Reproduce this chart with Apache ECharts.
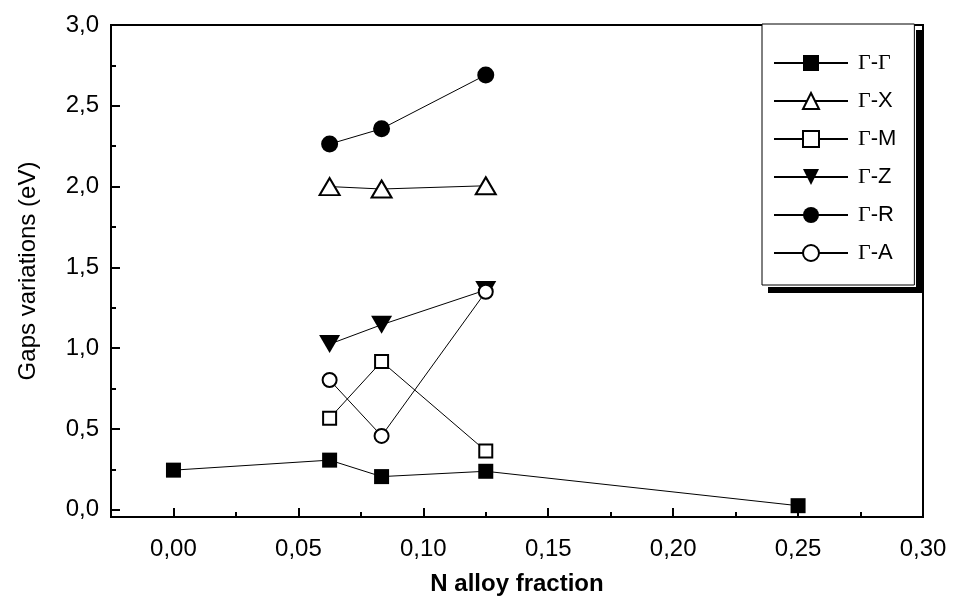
<!DOCTYPE html>
<html>
<head>
<meta charset="utf-8">
<script src="https://cdn.jsdelivr.net/npm/echarts@6/dist/echarts.min.js"></script>
<style>
  html, body { margin: 0; padding: 0; background: #fff; }
  #main { width: 953px; height: 601px; }
</style>
</head>
<body>
<div id="main"></div>
<script>
// N alloy fraction for each series
const xAll = [0, 0.0625, 0.0833, 0.125, 0.25]
const xMid = [0.0625, 0.0833, 0.125]

// gaps (eV)
const gammaGamma = [0.245, 0.307, 0.205, 0.238, 0.025]
const gammaX = [2.0, 1.985, 2.005]
const gammaM = [0.566, 0.917, 0.364]
const gammaZ = [1.025, 1.145, 1.36]
const gammaR = [2.263, 2.358, 2.691]
const gammaA = [0.803, 0.457, 1.349]

// ticks
const xMajor = [0, 0.05, 0.10, 0.15, 0.20, 0.25, 0.30]
const xMinor = [-0.025, 0.025, 0.075, 0.125, 0.175, 0.225, 0.275]
const yMajor = [0, 0.5, 1.0, 1.5, 2.0, 2.5, 3.0]
const yMinor = [0.25, 0.75, 1.25, 1.75, 2.25, 2.75]

const pair = (xs, ys) => xs.map((x, i) => [x, ys[i]])
const FONT = 'Liberation Sans'
const downTri = 'path://M0,0 L10,0 L5,9 Z'

function mkSeries(name, xs, ys, symbol, size, hollow) {
    return {
        name: name,
        type: 'line',
        data: pair(xs, ys),
        symbol: symbol,
        symbolSize: size,
        showSymbol: true,
        lineStyle: { color: '#000', width: 1 },
        itemStyle: hollow ? { color: '#000', borderColor: '#000', borderWidth: 2 } : { color: '#000', borderWidth: 0 },
        emphasis: { disabled: true },
        z: 3
    }
}

const chart = echarts.init(document.getElementById('main'), null, { renderer: 'canvas' })

const option = {
    animation: false,
    backgroundColor: '#fff',
    grid: {
        left: 111, right: 30, top: 25, bottom: 83,
        show: true, borderColor: '#000', borderWidth: 2
    },
    // thick drop shadow of the legend frame
    graphic: [
        { type: 'rect', left: 916, top: 30, shape: { width: 7, height: 263 }, style: { fill: '#000' }, z: 1 },
        { type: 'rect', left: 768, top: 287, shape: { width: 155, height: 6 }, style: { fill: '#000' }, z: 1 }
    ],
    legend: {
        orient: 'vertical',
        left: 762, top: 24,
        padding: [28, 18, 21, 11],
        itemWidth: 74, itemHeight: 20, itemGap: 16,
        backgroundColor: '#fff',
        borderColor: '#000', borderWidth: 1,
        selectedMode: false,
        z: 5,
        data: ['Γ-Γ', 'Γ-X', 'Γ-M', 'Γ-Z', 'Γ-R', 'Γ-A'],
        formatter: function (name) {
            const rest = name.slice(2)
            if (rest === 'Γ') return '{g|Γ}{s|-}{g|Γ}'
            return '{g|Γ}{s|-' + rest + '}'
        },
        textStyle: {
            padding: [0, 0, 0, 5],
            rich: {
                g: { fontFamily: 'Liberation Serif', fontSize: 22, color: '#000' },
                s: { fontFamily: FONT, fontSize: 22, color: '#000' }
            }
        }
    },
    xAxis: [{
        type: 'value',
        min: -0.025, max: 0.30,
        name: 'N alloy fraction',
        nameLocation: 'middle',
        nameGap: 55,
        nameTextStyle: { fontFamily: FONT, fontSize: 24, fontWeight: 'bold', color: '#000' },
        axisLine: { show: true, onZero: false, lineStyle: { color: '#000', width: 2 } },
        axisTick: { show: true, inside: true, length: 9, customValues: xMajor, lineStyle: { color: '#000', width: 2 } },
        axisLabel: {
            customValues: xMajor,
            margin: 20,
            fontFamily: FONT, fontSize: 24, color: '#000',
            formatter: v => v.toFixed(2).replace('.', ',')
        },
        splitLine: { show: false }
    }, {
        type: 'value',
        min: -0.025, max: 0.30,
        position: 'bottom',
        axisLine: { show: false, onZero: false },
        axisTick: { show: true, inside: true, length: 5, customValues: xMinor, lineStyle: { color: '#000', width: 2 } },
        axisLabel: { show: false },
        splitLine: { show: false }
    }],
    yAxis: [{
        type: 'value',
        min: -0.045, max: 3.0,
        name: 'Gaps variations (eV)',
        nameLocation: 'middle',
        nameGap: 71,
        nameTextStyle: { fontFamily: FONT, fontSize: 24, color: '#000' },
        axisLine: { show: true, onZero: false, lineStyle: { color: '#000', width: 2 } },
        axisTick: { show: true, inside: true, length: 9, customValues: yMajor, lineStyle: { color: '#000', width: 2 } },
        axisLabel: {
            customValues: yMajor,
            margin: 12,
            fontFamily: FONT, fontSize: 24, color: '#000',
            formatter: v => v.toFixed(1).replace('.', ',')
        },
        splitLine: { show: false }
    }, {
        type: 'value',
        min: -0.045, max: 3.0,
        position: 'left',
        axisLine: { show: false, onZero: false },
        axisTick: { show: true, inside: true, length: 5, customValues: yMinor, lineStyle: { color: '#000', width: 2 } },
        axisLabel: { show: false },
        splitLine: { show: false }
    }],
    series: [
        mkSeries('Γ-Γ', xAll, gammaGamma, 'rect', 15, false),
        mkSeries('Γ-X', xMid, gammaX, 'emptyTriangle', [20, 17], true),
        mkSeries('Γ-M', xMid, gammaM, 'emptyRect', 13, true),
        mkSeries('Γ-Z', xMid, gammaZ, downTri, [21, 18], false),
        mkSeries('Γ-R', xMid, gammaR, 'circle', 17, false),
        mkSeries('Γ-A', xMid, gammaA, 'emptyCircle', 14, true)
    ]
}

chart.setOption(option)
</script>
</body>
</html>
